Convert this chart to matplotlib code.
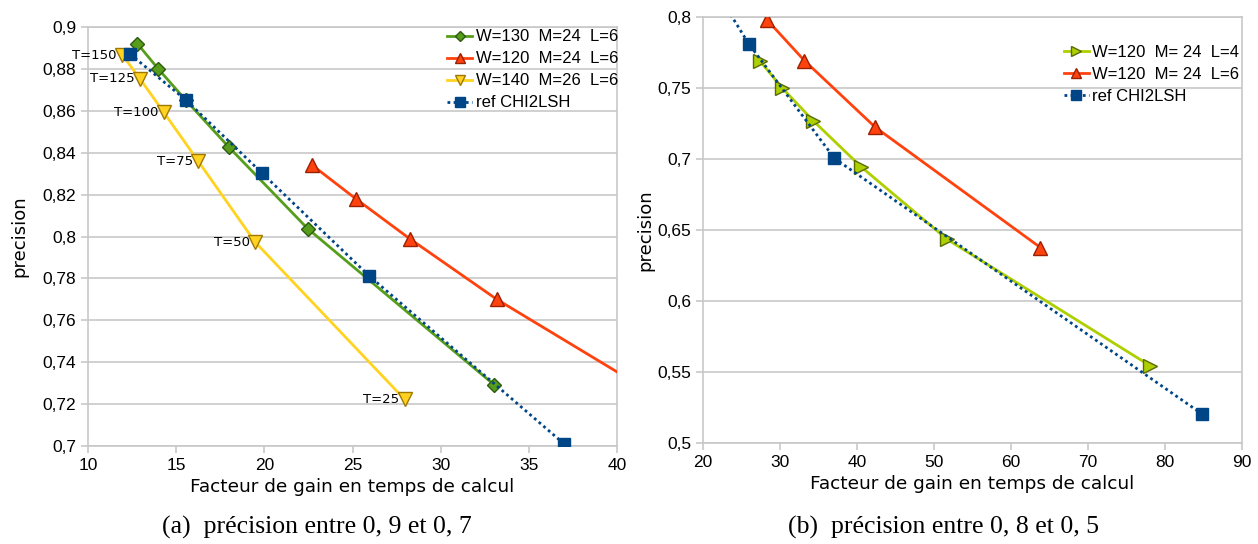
import matplotlib
matplotlib.use("Agg")
import matplotlib.pyplot as plt
from matplotlib.ticker import FuncFormatter, MultipleLocator

# --- (a) precision between 0.9 and 0.7 ---
a_w130_x = [12.8, 13.98, 15.55, 17.98, 22.45, 33.02]
a_w130_y = [0.892, 0.880, 0.865, 0.8427, 0.8038, 0.7293]
a_w120_x = [22.7, 25.2, 28.25, 33.18, 45.0]
a_w120_y = [0.8341, 0.8179, 0.7989, 0.770, 0.710]
a_w140_x = [11.95, 12.95, 14.3, 16.25, 19.48, 27.95]
a_w140_y = [0.8866, 0.8752, 0.8592, 0.8359, 0.7973, 0.7223]
a_w140_T = [150, 125, 100, 75, 50, 25]
a_ref_x = [12.39, 15.57, 19.86, 25.93, 37.0]
a_ref_y = [0.887, 0.865, 0.8303, 0.7813, 0.701]

# --- (b) precision between 0.8 and 0.5 ---
b_l4_x = [27.42, 30.29, 34.32, 40.53, 51.71, 78.1]
b_l4_y = [0.7688, 0.750, 0.7269, 0.6945, 0.6434, 0.5543]
b_l6_x = [28.31, 33.17, 42.36, 63.83]
b_l6_y = [0.798, 0.7693, 0.7224, 0.6376]
b_ref_x = [21.5, 25.96, 37.08, 84.84]
b_ref_y = [0.820, 0.781, 0.7004, 0.5203]

GREEN, RED, YELLOW, BLUE, LIME = "#579d1c", "#ff420e", "#ffd320", "#004586", "#aecf00"
GRID = "#c8c8c8"

plt.rcParams['font.family'] = ['DejaVu Sans']


def comma(v, pos):
    return ('%g' % round(v, 3)).replace('.', ',')


def style_axes(ax):
    ax.yaxis.grid(True, color=GRID, linewidth=1.2)
    ax.set_axisbelow(True)
    for s in ax.spines.values():
        s.set_color(GRID)
        s.set_linewidth(1.2)
    ax.tick_params(colors=GRID, labelcolor='black', labelsize=12.5, length=5, width=1.2)
    ax.yaxis.set_major_formatter(FuncFormatter(comma))
    for lab in ax.get_xticklabels() + ax.get_yticklabels():
        lab.set_family(['Liberation Sans'])


legend_kw = dict(frameon=False, handlelength=1.5, handletextpad=0.2, labelspacing=0.42,
                 markerscale=0.75, prop={'family': 'Liberation Sans', 'size': 12})

fig = plt.figure(figsize=(12.58, 5.44), dpi=100)

# left chart
ax1 = fig.add_axes([0.0700, 0.1801, 0.4205, 0.7703])
ax1.plot(a_w130_x, a_w130_y, color=GREEN, lw=2, marker='D', ms=7,
         mfc=GREEN, mec='#2d5a0c', label='W=130  M=24  L=6', zorder=3)
ax1.plot(a_w120_x, a_w120_y, color=RED, lw=2, marker='^', ms=10,
         mfc=RED, mec='#9a2000', label='W=120  M=24  L=6', zorder=3)
ax1.plot(a_w140_x, a_w140_y, color=YELLOW, lw=2, marker='v', ms=10,
         mfc=YELLOW, mec='#a07800', label='W=140  M=26  L=6', zorder=3)
ax1.plot(a_ref_x, a_ref_y, color=BLUE, lw=2, ls=(0, (1, 1.2)), marker='s', ms=9,
         mfc=BLUE, mec=BLUE, label='ref CHI2LSH', zorder=4)
for x, y, t in zip(a_w140_x, a_w140_y, a_w140_T):
    ax1.annotate('T=%d' % t, (x, y), xytext=(-4, 0), textcoords='offset points',
                 ha='right', va='center', fontsize=9.5, zorder=5)
ax1.set_xlim(10, 40)
ax1.set_ylim(0.7, 0.9)
ax1.xaxis.set_major_locator(MultipleLocator(5))
ax1.yaxis.set_major_locator(MultipleLocator(0.02))
style_axes(ax1)
ax1.set_xlabel('Facteur de gain en temps de calcul', fontsize=13.3, labelpad=4)
ax1.set_ylabel('precision', fontsize=13, labelpad=10)
ax1.legend(loc='upper right', bbox_to_anchor=(1.03, 1.03), **legend_kw)

# right chart
ax2 = fig.add_axes([0.5588, 0.1857, 0.4285, 0.7831])
ax2.plot(b_l4_x, b_l4_y, color=LIME, lw=2, marker='>', ms=10,
         mfc=LIME, mec='#5a6b00', label='W=120  M= 24  L=4', zorder=3)
ax2.plot(b_l6_x, b_l6_y, color=RED, lw=2, marker='^', ms=10,
         mfc=RED, mec='#9a2000', label='W=120  M= 24  L=6', zorder=3)
ax2.plot(b_ref_x, b_ref_y, color=BLUE, lw=2, ls=(0, (1, 1.2)), marker='s', ms=9,
         mfc=BLUE, mec=BLUE, label='ref CHI2LSH', zorder=4)
ax2.set_xlim(20, 90)
ax2.set_ylim(0.5, 0.8)
ax2.xaxis.set_major_locator(MultipleLocator(10))
ax2.yaxis.set_major_locator(MultipleLocator(0.05))
style_axes(ax2)
ax2.set_xlabel('Facteur de gain en temps de calcul', fontsize=13.3, labelpad=4)
ax2.set_ylabel('precision', fontsize=13, labelpad=2)
ax2.legend(loc='upper right', bbox_to_anchor=(1.022, 0.97), **legend_kw)

fig.text(0.252, 0.02, '(a)  précision entre 0, 9 et 0, 7', ha='center', va='baseline',
         fontsize=18.5, family='Liberation Serif')
fig.text(0.750, 0.02, '(b)  précision entre 0, 8 et 0, 5', ha='center', va='baseline',
         fontsize=18.5, family='Liberation Serif')

fig.savefig('out.png', dpi=100)
